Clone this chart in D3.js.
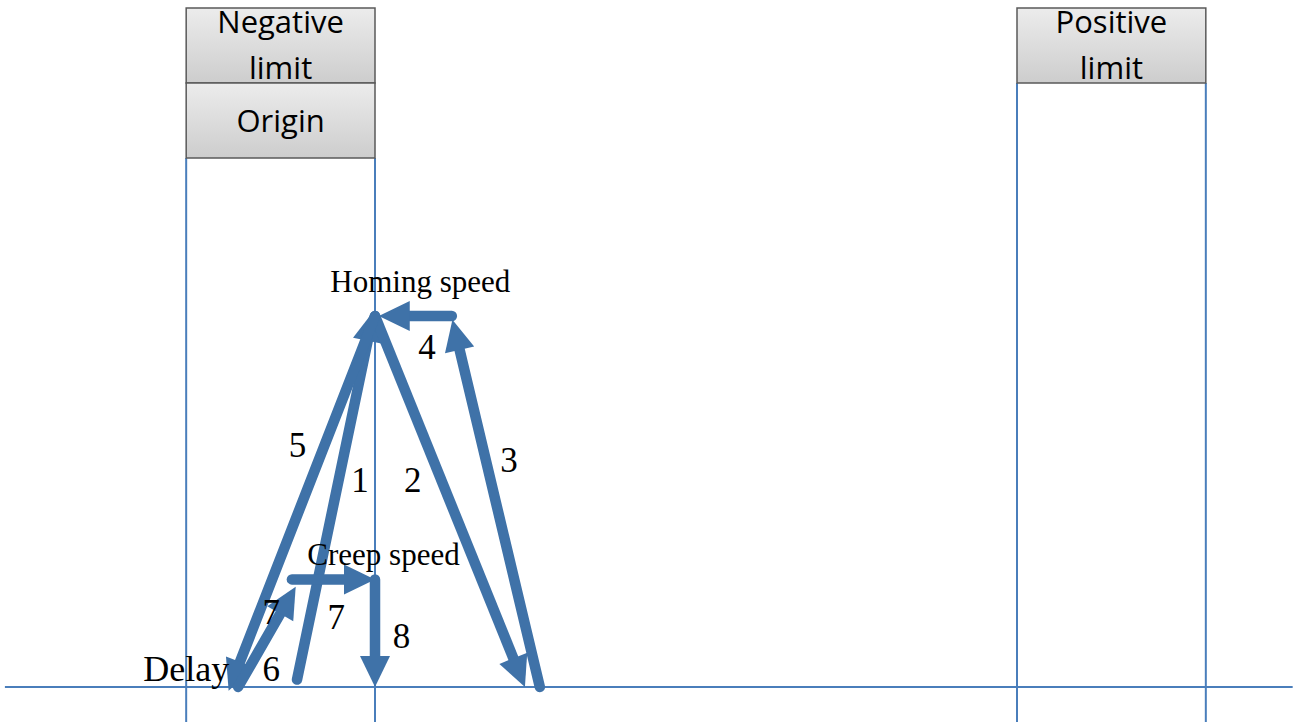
<!DOCTYPE html>
<html>
<head>
<meta charset="utf-8">
<script src="https://cdn.jsdelivr.net/npm/d3@7"></script>
<style>
  body { margin: 0; background: #fff; }
  .serif { font-family: 'Liberation Serif', 'Times New Roman', serif; fill: #000; }
  .box text { font-family: 'Open Sans', 'Noto Sans', sans-serif; font-size: 31px; fill: #000; text-anchor: middle; }
</style>
</head>
<body>
<div id="chart"></div>
<script>
// position in units (origin switch edge = 0), speed in % of homing speed
const switches = [
  { name: 'neg', lines: ['Negative', 'limit'], from: -10, to: 0, row: 0 },
  { name: 'org', lines: ['Origin'], from: -10, to: 0, row: 1 },
  { name: 'pos', lines: ['Positive', 'limit'], from: 34, to: 44, row: 0 }
]
const guideLines = [-10, 0, 34, 44]
const axisRange = [-19.6, 48.6]

const homingSpeed = 100
const creepSpeed = 29

// each step: start point and end (arrow tip)
const steps = [
  { id: '1', x0: -4.13, y0: 2, x1: -0.05, y1: 101.5 },
  { id: '2', x0: 0, y0: 100, x1: 7.94, y1: 0 },
  { id: '3', x0: 8.73, y0: 0, x1: 4.1, y1: 99 },
  { id: '4', x0: 4.07, y0: homingSpeed, x1: 0.2, y1: homingSpeed },
  { id: '5', x0: 0, y0: 100, x1: -7.75, y1: -1 },
  { id: '7a', x0: -7.25, y0: 0, x1: -4.2, y1: 27 },
  { id: '7b', x0: -4.4, y0: creepSpeed, x1: 0, y1: creepSpeed },
  { id: '8', x0: 0, y0: creepSpeed, x1: 0, y1: 0 }
]

const labels = [
  { t: 'Homing speed', x: 2.4, y: 106.5, size: 31 },
  { t: '4', x: 2.75, y: 88.5, size: 35 },
  { t: '5', x: -4.1, y: 62, size: 35 },
  { t: '1', x: -0.8, y: 52.5, size: 35 },
  { t: '2', x: 2, y: 52.5, size: 35 },
  { t: '3', x: 7.1, y: 58, size: 35 },
  { t: 'Creep speed', x: 0.45, y: 32.8, size: 31 },
  { t: '7', x: -5.5, y: 17, size: 35 },
  { t: '7', x: -2.05, y: 15.5, size: 35 },
  { t: '8', x: 1.4, y: 10.5, size: 35 },
  { t: 'Delay', x: -10, y: 1.5, size: 36 },
  { t: '6', x: -5.5, y: 1.5, size: 35 }
]

const width = 1296
const height = 722
const blue = '#3f72a8'
const thin = '#4a7ebb'

const x = d3.scaleLinear().domain([0, 34]).range([375, 1017])
const y = d3.scaleLinear().domain([0, 100]).range([687, 316])

const svg = d3.select('#chart').append('svg')
  .attr('width', width)
  .attr('height', height)

const defs = svg.append('defs')
const grad = defs.append('linearGradient')
  .attr('id', 'boxFill')
  .attr('x1', 0).attr('y1', 0).attr('x2', 0).attr('y2', 1)
grad.append('stop').attr('offset', '0%').attr('stop-color', '#ececec')
grad.append('stop').attr('offset', '100%').attr('stop-color', '#cdcdcd')

// guide lines
const boxTop = 8
const boxH = 75
svg.append('g').selectAll('line')
  .data(guideLines)
  .enter().append('line')
  .attr('x1', d => x(d)).attr('x2', d => x(d))
  .attr('y1', d => d < 10 ? boxTop + 2 * boxH : boxTop + boxH)
  .attr('y2', height)
  .attr('stroke', thin)
  .attr('stroke-width', 2)

svg.append('line')
  .attr('x1', x(axisRange[0])).attr('x2', x(axisRange[1]))
  .attr('y1', y(0)).attr('y2', y(0))
  .attr('stroke', thin)
  .attr('stroke-width', 2)

// switch boxes
const box = svg.append('g').attr('class', 'box').selectAll('g')
  .data(switches)
  .enter().append('g')
  .attr('transform', d => 'translate(' + x(d.from) + ',' + (boxTop + d.row * boxH) + ')')
box.append('rect')
  .attr('width', d => x(d.to) - x(d.from))
  .attr('height', boxH)
  .attr('fill', 'url(#boxFill)')
  .attr('stroke', '#595959')
  .attr('stroke-width', 1.5)
box.each(function (d) {
  const g = d3.select(this)
  const w = x(d.to) - x(d.from)
  const base = d.lines.length === 2 ? [25, 71] : [49]
  d.lines.forEach((t, i) => {
    g.append('text').attr('x', w / 2).attr('y', base[i]).text(t)
  })
})

// arrows
const headLen = 31
const headW = 15
const arrows = svg.append('g')
steps.forEach(s => {
  const ax = x(s.x0), ay = y(s.y0), bx = x(s.x1), by = y(s.y1)
  const dx = bx - ax, dy = by - ay
  const len = Math.sqrt(dx * dx + dy * dy)
  const ux = dx / len, uy = dy / len
  const cx = bx - ux * headLen * 0.8, cy = by - uy * headLen * 0.8
  arrows.append('line')
    .attr('x1', ax).attr('y1', ay).attr('x2', cx).attr('y2', cy)
    .attr('stroke', blue)
    .attr('stroke-width', 10.5)
    .attr('stroke-linecap', 'round')
  const bxh = bx - ux * headLen, byh = by - uy * headLen
  const pts = [
    [bx, by],
    [bxh - uy * headW, byh + ux * headW],
    [bxh + uy * headW, byh - ux * headW]
  ]
  arrows.append('polygon')
    .attr('points', pts.map(p => p.join(',')).join(' '))
    .attr('fill', blue)
})

// labels
svg.append('g').selectAll('text')
  .data(labels)
  .enter().append('text')
  .attr('class', 'serif')
  .attr('x', d => x(d.x))
  .attr('y', d => y(d.y))
  .attr('text-anchor', 'middle')
  .style('font-size', d => d.size + 'px')
  .text(d => d.t)
</script>
</body>
</html>
